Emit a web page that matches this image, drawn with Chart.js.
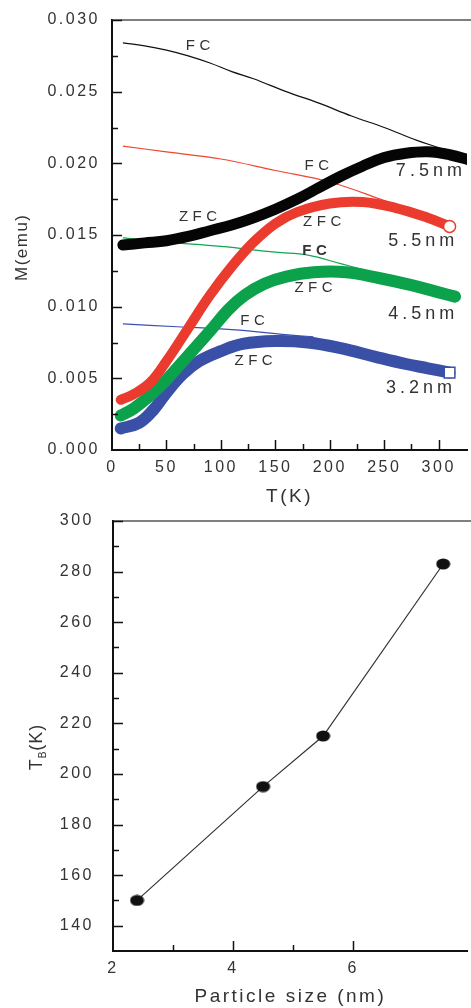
<!DOCTYPE html>
<html lang="en">
<head>
<meta charset="UTF-8">
<title>ZFC / FC magnetization and blocking temperature</title>
<script src="https://cdn.jsdelivr.net/npm/chart.js"></script>
<style>
  html, body { margin: 0; padding: 0; background: #fff; overflow: hidden; }
  .page { position: relative; width: 471px; height: 1008px; overflow: hidden; }
  #mtChart { position: absolute; left: 0; top: 0; }
  #tbChart { position: absolute; left: 0; top: 505px; }
</style>
</head>
<body>
<div class="page">
  <canvas id="mtChart" width="476" height="506"></canvas>
  <canvas id="tbChart" width="476" height="503"></canvas>
</div>
<script>
// ---- top panel: M(emu) vs T(K) ----
const fc75T  = [10, 30, 50, 70, 90, 110, 130, 160, 190, 220, 250, 280, 300, 312];
const fc75M  = [0.0284, 0.0282, 0.0279, 0.0275, 0.0270, 0.0264, 0.0259, 0.0250, 0.0242, 0.0233, 0.0225, 0.0216, 0.0211, 0.0208];
const zfc75T = [10, 30, 50, 70, 90, 110, 130, 150, 170, 190, 210, 230, 250, 270, 290, 310, 330];
const zfc75M = [0.0143, 0.01445, 0.0146, 0.0149, 0.0153, 0.0157, 0.0162, 0.0168, 0.0175, 0.0183, 0.0191, 0.0198, 0.0204, 0.0207, 0.0208, 0.0206, 0.0202];

const fc55T  = [10, 50, 100, 150, 200, 250, 280, 310];
const fc55M  = [0.0212, 0.0208, 0.0203, 0.0195, 0.0187, 0.0174, 0.0166, 0.0157];
const zfc55T = [8, 20, 35, 50, 70, 90, 110, 130, 150, 170, 200, 230, 260, 290, 310];
const zfc55M = [0.0035, 0.0039, 0.0047, 0.0062, 0.0085, 0.0108, 0.0128, 0.0145, 0.0158, 0.0166, 0.0172, 0.0173, 0.0169, 0.0162, 0.0156];

const fc45T  = [10, 50, 100, 150, 180, 210, 230];
const fc45M  = [0.0148, 0.0145, 0.0142, 0.0138, 0.0136, 0.0130, 0.0126];
const zfc45T = [8, 20, 35, 50, 70, 90, 107, 122, 140, 160, 185, 215, 245, 275, 300, 315];
const zfc45M = [0.0024, 0.0029, 0.0038, 0.0049, 0.0066, 0.0083, 0.0098, 0.0108, 0.0116, 0.0121, 0.0124, 0.0124, 0.0120, 0.0115, 0.0110, 0.0107];

const fc32T  = [10, 60, 110, 167, 185];
const fc32M  = [0.0088, 0.0086, 0.0084, 0.0080, 0.0079];
const zfc32T = [8, 25, 38, 50, 65, 80, 100, 120, 150, 180, 210, 242, 270, 290, 310];
const zfc32M = [0.0015, 0.0019, 0.0028, 0.0040, 0.0053, 0.0062, 0.0069, 0.0074, 0.0076, 0.0075, 0.0071, 0.0065, 0.0060, 0.0057, 0.0054];

// ---- bottom panel: blocking temperature vs particle size ----
const sizes = [2.4, 4.5, 5.5, 7.5];
const tBlock = [150, 195, 215, 283];

// text labels placed next to the curves (data coordinates)
const curveLabels = [
  { text: 'FC',    t: 79,  m: 0.0282 },
  { text: 'ZFC',   t: 79,  m: 0.01625 },
  { text: '7.5nm', t: 291, m: 0.01946, big: true },
  { text: 'FC',    t: 188, m: 0.0198 },
  { text: 'ZFC',   t: 193, m: 0.0159 },
  { text: '5.5nm', t: 284, m: 0.01457, big: true },
  { text: 'FC',    t: 186, m: 0.01388, bold: true },
  { text: 'ZFC',   t: 185, m: 0.0113 },
  { text: '4.5nm', t: 284, m: 0.00948, big: true },
  { text: 'FC',    t: 129, m: 0.0090 },
  { text: 'ZFC',   t: 130, m: 0.00621 },
  { text: '3.2nm', t: 282, m: 0.00432, big: true }
];

const FONT = 'Arial, "Liberation Sans", sans-serif';
const INK = '#333';
Chart.defaults.font.family = FONT;
Chart.defaults.color = INK;

function pts(xs, ys) {
  return xs.map((x, i) => ({ x: x, y: ys[i] }));
}

function isMajor(v, step) {
  return Math.abs(v / step - Math.round(v / step)) < 1e-6;
}

// keep the plot box where the fixed padding puts it
function fixWidth(w) {
  return s => { s.width = w; s.paddingTop = 0; s.paddingBottom = 0; };
}
function fixHeight(h) {
  return s => { s.height = h; s.paddingLeft = 0; s.paddingRight = 0; };
}

function spacedText(ctx, text, x, y, font, spacing, color) {
  ctx.save();
  ctx.letterSpacing = spacing + 'px';
  ctx.font = font;
  ctx.fillStyle = color;
  ctx.textAlign = 'center';
  ctx.textBaseline = 'middle';
  ctx.fillText(text, x + spacing / 2, y);
  ctx.restore();
}

// letter spaced look of the original figure
const spacing = {
  id: 'spacing',
  beforeUpdate(chart) { chart.ctx.letterSpacing = '2.5px'; },
  beforeDraw(chart) { chart.ctx.letterSpacing = '2.5px'; }
};

// inward tick marks + top frame line
const frame = {
  id: 'frame',
  afterDraw(chart, args, opts) {
    const ctx = chart.ctx;
    const a = chart.chartArea;
    ctx.save();
    ctx.letterSpacing = '0px';
    ctx.strokeStyle = '#555';
    ctx.lineWidth = 1.5;
    ctx.beginPath();
    ctx.moveTo(a.left, a.top);
    ctx.lineTo(a.right + 10, a.top);
    ctx.stroke();

    ctx.strokeStyle = '#111';
    ctx.lineWidth = 1.5;
    const xs = chart.scales.x, ys = chart.scales.y;
    ctx.beginPath();
    xs.ticks.forEach(t => {
      const p = Math.round(xs.getPixelForValue(t.value)) + 0.5;
      if (p <= a.left + 1) return;
      const len = isMajor(t.value, opts.xMajor) ? 10 : 6;
      ctx.moveTo(p, a.bottom);
      ctx.lineTo(p, a.bottom - len);
    });
    ys.ticks.forEach(t => {
      const p = Math.round(ys.getPixelForValue(t.value)) + 0.5;
      if (p >= a.bottom - 1) return;
      const len = isMajor(t.value, opts.yMajor) ? 10 : 6;
      ctx.moveTo(a.left, p);
      ctx.lineTo(a.left + len, p);
    });
    ctx.stroke();
    ctx.restore();
  }
};

// curve names and rotated y title on the top panel
const mtText = {
  id: 'mtText',
  afterDraw(chart) {
    const ctx = chart.ctx;
    const xs = chart.scales.x, ys = chart.scales.y;
    curveLabels.forEach(l => {
      const font = l.big ? '18px ' + FONT : (l.bold ? 'bold 15px ' + FONT : '15px ' + FONT);
      spacedText(ctx, l.text, xs.getPixelForValue(l.t), ys.getPixelForValue(l.m), font, l.big ? 4 : 4.5, '#333');
    });
    ctx.save();
    ctx.translate(22, 248);
    ctx.rotate(-Math.PI / 2);
    spacedText(ctx, 'M(emu)', 0, 0, '17px ' + FONT, 1.5, '#333');
    ctx.restore();
  }
};

// T_B(K) title with subscript on the bottom panel
const tbText = {
  id: 'tbText',
  afterDraw(chart) {
    const ctx = chart.ctx;
    ctx.save();
    ctx.letterSpacing = '1px';
    ctx.fillStyle = '#333';
    ctx.textBaseline = 'middle';
    ctx.textAlign = 'left';
    const big = '18px ' + FONT, small = '10px ' + FONT;
    ctx.font = big;
    const wT = ctx.measureText('T').width, wK = ctx.measureText('(K)').width;
    ctx.font = small;
    const wB = ctx.measureText('B').width;
    const total = wT + wB + wK;
    ctx.translate(37, 242);
    ctx.rotate(-Math.PI / 2);
    let x = -total / 2;
    ctx.font = big; ctx.fillText('T', x, 0); x += wT;
    ctx.font = small; ctx.fillText('B', x, 6); x += wB;
    ctx.font = big; ctx.fillText('(K)', x, 0);
    ctx.restore();
  }
};

function lastOnly(r) {
  return ctx => ctx.dataIndex === ctx.dataset.data.length - 1 ? r : 0;
}

function band(data, color, width, order, extra) {
  return Object.assign({
    data: data, borderColor: color, borderWidth: width, borderCapStyle: 'round',
    borderJoinStyle: 'round', tension: 0.4, pointRadius: 0, order: order
  }, extra || {});
}

function thin(data, color, order) {
  return {
    data: data, borderColor: color, borderWidth: 1.2, tension: 0.4,
    pointRadius: 0, order: order
  };
}

new Chart(document.getElementById('mtChart'), {
  type: 'line',
  data: {
    datasets: [
      band(pts(zfc75T, zfc75M), '#050505', 11, 0),
      band(pts(zfc55T, zfc55M), '#ea3b2e', 10, 1, {
        pointRadius: lastOnly(6), pointBackgroundColor: '#fff', pointBorderColor: '#ea3b2e', pointBorderWidth: 1.5
      }),
      band(pts(zfc45T, zfc45M), '#0ba24b', 12, 2),
      band(pts(zfc32T, zfc32M), '#3a4fa6', 12, 3, {
        pointRadius: lastOnly(7.5), pointStyle: 'rect', pointBackgroundColor: '#fff', pointBorderColor: '#3a4fa6', pointBorderWidth: 1.5
      }),
      thin(pts(fc75T, fc75M), '#111', 4),
      thin(pts(fc55T, fc55M), '#f0452f', 5),
      thin(pts(fc45T, fc45M), '#12a552', 6),
      thin(pts(fc32T, fc32M), '#3b50b2', 7)
    ]
  },
  options: {
    responsive: false,
    animation: false,
    devicePixelRatio: 1,
    layout: { padding: { top: 20, right: 3, left: 0, bottom: 0 } },
    plugins: {
      legend: { display: false },
      tooltip: { enabled: false },
      frame: { xMajor: 50, yMajor: 0.005 }
    },
    scales: {
      x: {
        type: 'linear', min: 0, max: 326,
        afterFit: fixHeight(56),
        afterBuildTicks(s) { s.ticks = s.ticks.filter(t => isMajor(t.value, 25)); },
        ticks: {
          stepSize: 25, padding: 8, maxRotation: 0, autoSkip: false, color: INK,
          font: { size: 16 },
          callback: v => isMajor(v, 50) ? String(Math.round(v)) : ''
        },
        grid: { display: true, drawOnChartArea: false, drawTicks: false },
        border: { display: true, color: '#111', width: 2 },
        title: { display: true, text: 'T(K)', color: '#333', font: { size: 19, lineHeight: 1 }, padding: 0 }
      },
      y: {
        min: 0, max: 0.03,
        afterFit: fixWidth(112),
        ticks: {
          stepSize: 0.0025, padding: 12, autoSkip: false, color: INK,
          font: { size: 16 },
          callback: v => isMajor(v, 0.005) ? v.toFixed(3) : ''
        },
        grid: { display: true, drawOnChartArea: false, drawTicks: false },
        border: { display: true, color: '#111', width: 2 }
      }
    }
  },
  plugins: [spacing, frame, mtText]
});

// filled ellipse marker like the original
const dot = document.createElement('canvas');
dot.width = 15; dot.height = 12;
const dctx = dot.getContext('2d');
dctx.fillStyle = '#111';
dctx.beginPath();
dctx.ellipse(7.5, 6, 7, 5.5, 0, 0, Math.PI * 2);
dctx.fill();

new Chart(document.getElementById('tbChart'), {
  type: 'line',
  data: {
    datasets: [{
      data: pts(sizes, tBlock),
      borderColor: '#333', borderWidth: 1.2, tension: 0,
      pointStyle: dot, pointRadius: 7
    }]
  },
  options: {
    responsive: false,
    animation: false,
    devicePixelRatio: 1,
    layout: { padding: { top: 16, right: 3, left: 0, bottom: 0 } },
    plugins: {
      legend: { display: false },
      tooltip: { enabled: false },
      frame: { xMajor: 2, yMajor: 20 }
    },
    scales: {
      x: {
        type: 'linear', min: 2, max: 7.91,
        afterFit: fixHeight(57),
        afterBuildTicks(s) { s.ticks = s.ticks.filter(t => isMajor(t.value, 1)); },
        ticks: {
          stepSize: 1, padding: 8, maxRotation: 0, autoSkip: false, color: INK,
          font: { size: 16 },
          callback: v => isMajor(v, 2) ? String(Math.round(v)) : ''
        },
        grid: { display: true, drawOnChartArea: false, drawTicks: false },
        border: { display: true, color: '#111', width: 2 },
        title: { display: true, text: 'Particle size (nm)', color: '#333', font: { size: 19 }, padding: 0 }
      },
      y: {
        min: 130, max: 300,
        afterFit: fixWidth(113),
        ticks: {
          stepSize: 10, padding: 19, autoSkip: false, color: INK,
          font: { size: 16 },
          callback: v => isMajor(v, 20) ? String(Math.round(v)) : ''
        },
        grid: { display: true, drawOnChartArea: false, drawTicks: false },
        border: { display: true, color: '#111', width: 2 }
      }
    }
  },
  plugins: [spacing, frame, tbText]
});
</script>
</body>
</html>
